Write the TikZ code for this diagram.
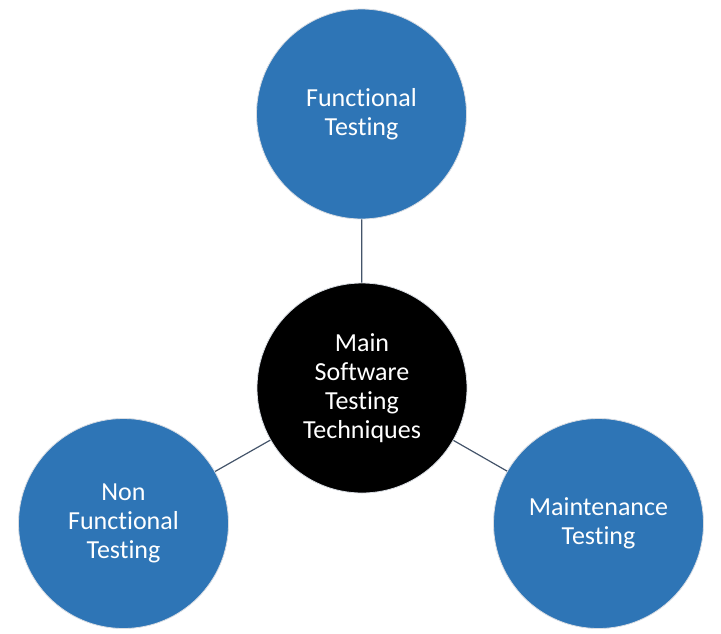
\documentclass[tikz,border=0pt]{standalone}
\usepackage{fontspec}
\setmainfont[Ligatures={NoCommon}]{Carlito}
\definecolor{blueA}{HTML}{2E75B6}
\definecolor{lineC}{HTML}{44546A}
\definecolor{rimC}{HTML}{D9DDE3}
\begin{document}
\begin{tikzpicture}[x=1pt,y=-1pt,
  bubble/.style={circle, minimum size=210pt, inner sep=0pt, draw=rimC, line width=0.8pt,
    text=white, align=center, font=\fontsize{26}{28.8}\selectfont},
  blueb/.style={bubble, fill=blueA},
  hub/.style={bubble, fill=black},
  link/.style={draw=lineC, line width=1.2pt}]
\useasboundingbox (0,0) rectangle (721,633);
\node[hub] (main) at (362,388) {Main\\Software\\Testing\\Techniques};
\node[blueb] (func) at (361.5,114) {Functional\\Testing};
\node[blueb] (nonf) at (123.5,523.5) {Non\\Functional\\Testing};
\node[blueb] (maint) at (598.5,523.5) {Maintenance\\Testing};
\draw[link] (main) -- (func);
\draw[link] (main) -- (nonf);
\draw[link] (main) -- (maint);
\end{tikzpicture}
\end{document}
